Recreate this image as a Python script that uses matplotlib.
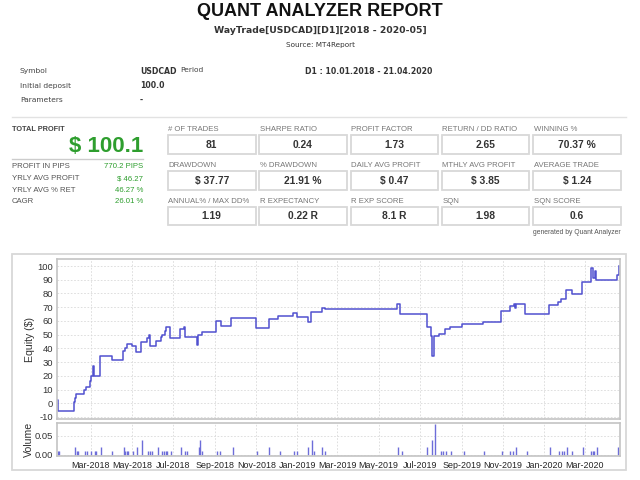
import matplotlib
matplotlib.use("Agg")
import matplotlib.pyplot as plt
import matplotlib.dates as mdates
from matplotlib.patches import Rectangle
from matplotlib.lines import Line2D
import pandas as pd

plt.rcParams["axes.unicode_minus"] = False

# ---------------- data ----------------
title = "QUANT ANALYZER REPORT"
subtitle = "WayTrade[USDCAD][D1][2018 - 2020-05]"
source = "Source: MT4Report"

info_labels = ["Symbol", "Initial deposit", "Parameters"]
info_values = ["USDCAD", "100.0", "-"]
period_label = "Period"
period_value = "D1 : 10.01.2018 - 21.04.2020"

total_profit = "$ 100.1"
left_labels = ["PROFIT IN PIPS", "YRLY AVG PROFIT", "YRLY AVG % RET", "CAGR"]
left_values = ["770.2 PIPS", "$ 46.27", "46.27 %", "26.01 %"]

stat_labels = ["# OF TRADES", "SHARPE RATIO", "PROFIT FACTOR", "RETURN / DD RATIO", "WINNING %",
               "DRAWDOWN", "% DRAWDOWN", "DAILY AVG PROFIT", "MTHLY AVG PROFIT", "AVERAGE TRADE",
               "ANNUAL% / MAX DD%", "R EXPECTANCY", "R EXP SCORE", "SQN", "SQN SCORE"]
stat_values = ["81", "0.24", "1.73", "2.65", "70.37 %",
               "$ 37.77", "21.91 %", "$ 0.47", "$ 3.85", "$ 1.24",
               "1.19", "0.22 R", "8.1 R", "1.98", "0.6"]

equity_dates = ["2018-01-10", "2018-01-11", "2018-02-04", "2018-02-06", "2018-02-07",
                "2018-02-19", "2018-02-22", "2018-02-28", "2018-03-01", "2018-03-05",
                "2018-03-06", "2018-03-15", "2018-04-02", "2018-04-18", "2018-04-20",
                "2018-04-24", "2018-05-01", "2018-05-07", "2018-05-14", "2018-05-24",
                "2018-05-26", "2018-05-28", "2018-06-06", "2018-06-13", "2018-06-15",
                "2018-06-19", "2018-06-21", "2018-06-27", "2018-07-11", "2018-07-17",
                "2018-07-19", "2018-08-06", "2018-08-07", "2018-08-12", "2018-09-03",
                "2018-09-10", "2018-09-25", "2018-11-01", "2018-11-20", "2018-12-03",
                "2018-12-26", "2019-01-01", "2019-01-17", "2019-01-21", "2019-02-06",
                "2019-02-11", "2019-05-29", "2019-06-01", "2019-07-11", "2019-07-18",
                "2019-07-19", "2019-07-22", "2019-07-30", "2019-08-07", "2019-08-15",
                "2019-09-02", "2019-10-02", "2019-10-29", "2019-11-11", "2019-11-18",
                "2019-11-19", "2019-11-21", "2019-12-03", "2020-01-08", "2020-01-21",
                "2020-01-26", "2020-02-03", "2020-02-11", "2020-02-26", "2020-03-10",
                "2020-03-13", "2020-03-17", "2020-03-18", "2020-04-18", "2020-04-21"]
equity_values = [2.4, -5.7, 1.0, 4.0, 7.0,
                 9.5, 12.0, 16.0, 19.5, 27.0,
                 19.5, 34.5, 31.5, 38.0, 40.0,
                 43.0, 42.0, 37.0, 44.5, 47.5,
                 50.0, 42.0, 45.5, 48.5, 50.0,
                 52.5, 55.3, 47.3, 54.0, 55.8,
                 48.3, 42.5, 49.7, 52.1, 60.0,
                 56.3, 62.3, 54.6, 61.3, 63.6,
                 65.5, 63.2, 59.4, 66.5, 69.7,
                 68.6, 72.3, 65.2, 55.6, 49.0,
                 34.7, 49.2, 50.6, 54.0, 55.8,
                 57.5, 59.5, 67.2, 70.9, 72.6,
                 69.2, 72.6, 65.0, 71.6, 74.0,
                 75.7, 82.7, 79.6, 88.6, 98.8,
                 91.0, 96.4, 89.6, 93.4, 100.1]

volume_dates = ["2018-01-11", "2018-01-13", "2018-02-05", "2018-02-08", "2018-02-10",
                "2018-02-21", "2018-02-23", "2018-03-02", "2018-03-07", "2018-03-09",
                "2018-03-16", "2018-04-02", "2018-04-19", "2018-04-21", "2018-04-23",
                "2018-04-25", "2018-05-03", "2018-05-08", "2018-05-16", "2018-05-25",
                "2018-05-28", "2018-05-30", "2018-06-09", "2018-06-15", "2018-06-17",
                "2018-06-20", "2018-06-22", "2018-06-28", "2018-07-12", "2018-07-19",
                "2018-07-21", "2018-08-08", "2018-08-09", "2018-08-13", "2018-09-04",
                "2018-09-09", "2018-09-27", "2018-11-02", "2018-11-20", "2018-12-06",
                "2018-12-27", "2019-01-01", "2019-01-17", "2019-01-23", "2019-01-25",
                "2019-02-07", "2019-02-11", "2019-05-30", "2019-06-04", "2019-07-12",
                "2019-07-19", "2019-07-24", "2019-08-01", "2019-08-05", "2019-08-09",
                "2019-08-16", "2019-09-04", "2019-10-04", "2019-10-31", "2019-11-12",
                "2019-11-16", "2019-11-20", "2019-12-06", "2020-01-10", "2020-01-23",
                "2020-01-27", "2020-01-30", "2020-02-04", "2020-02-12", "2020-02-28",
                "2020-03-10", "2020-03-13", "2020-03-15", "2020-03-19", "2020-04-19"]
volume_lots = [0.01, 0.01, 0.02, 0.01, 0.01,
               0.01, 0.01, 0.01, 0.01, 0.01,
               0.02, 0.01, 0.02, 0.01, 0.01,
               0.01, 0.01, 0.02, 0.04, 0.01,
               0.01, 0.01, 0.02, 0.01, 0.01,
               0.01, 0.01, 0.01, 0.02, 0.01,
               0.01, 0.02, 0.04, 0.01, 0.01,
               0.01, 0.02, 0.01, 0.02, 0.01,
               0.01, 0.01, 0.02, 0.04, 0.01,
               0.02, 0.01, 0.02, 0.01, 0.02,
               0.04, 0.08, 0.01, 0.01, 0.01,
               0.01, 0.01, 0.01, 0.01, 0.01,
               0.01, 0.02, 0.01, 0.02, 0.01,
               0.01, 0.01, 0.02, 0.01, 0.02,
               0.01, 0.01, 0.01, 0.02, 0.02]

# ---------------- figure ----------------
W, H = 640, 480
fig = plt.figure(figsize=(6.4, 4.8), dpi=100)
fig.patch.set_facecolor("white")

def fx(x):
    return x / W

def fy(y):
    return 1 - y / H

SANS = "Liberation Sans"
TAHO = "DejaVu Sans"
GREEN = "#2e9e2e"

def txt(x, y, s, size, ha="left", va="center", weight="normal", color="#222222", family=SANS):
    fig.text(fx(x), fy(y), s, fontsize=size, ha=ha, va=va, fontweight=weight,
             color=color, family=family)

def rect(x0, y0, x1, y1, ec="#d4d4d4", lw=1.2, fc="none"):
    fig.patches.append(Rectangle((fx(x0), fy(y1)), (x1 - x0) / W, (y1 - y0) / H,
                                 transform=fig.transFigure, fill=(fc != "none"),
                                 facecolor=fc, edgecolor=ec, linewidth=lw))

def hline(x0, x1, y, color="#dddddd", lw=1.0):
    fig.lines.append(Line2D([fx(x0), fx(x1)], [fy(y), fy(y)], transform=fig.transFigure,
                            color=color, linewidth=lw))

# header
txt(320, 11.5, title, 13, ha="center", weight="bold", color="#111111")
txt(320, 30.5, subtitle, 6.7, ha="center", weight="bold", color="#333333", family=TAHO)
txt(320, 45, source, 5.2, ha="center", color="#333333", family=TAHO)

info_y = [71, 86, 100]
for lab, val, y in zip(info_labels, info_values, info_y):
    txt(20, y, lab, 5.4, color="#444444", family=TAHO)
    txt(140, y, val, 5.6, weight="bold", color="#333333", family=TAHO)
txt(180, 70, period_label, 5.4, color="#444444", family=TAHO)
txt(305, 71, period_value, 5.6, weight="bold", color="#333333", family=TAHO)

# stats section
hline(12, 626, 117, color="#e2e2e2", lw=1.0)
txt(12, 130, "TOTAL PROFIT", 5.3, weight="bold", color="#444444")
txt(143, 147, total_profit, 16, ha="right", weight="bold", color=GREEN)
hline(12, 143, 159, color="#cccccc", lw=1.0)
for i, (lab, val) in enumerate(zip(left_labels, left_values)):
    y = 167 + i * 11.6
    txt(12, y, lab, 5.6, color="#555555")
    txt(143, y, val, 5.6, ha="right", color=GREEN)

col_x = [168, 259.3, 350.6, 441.9, 533.2]
box_w = 87.5
row_label_y = [130, 165.7, 201.7]
row_box = [(135, 154), (171, 189.5), (206.5, 225)]
for k, (lab, val) in enumerate(zip(stat_labels, stat_values)):
    r, c = divmod(k, 5)
    x0 = col_x[c]
    txt(x0 + 0.5, row_label_y[r], lab, 5.6, color="#777777")
    y0, y1 = row_box[r]
    rect(x0, y0, x0 + box_w, y1, ec="#d8d8d8", lw=1.3)
    txt(x0 + box_w / 2, (y0 + y1) / 2 + 0.3, val, 7.4, ha="center", weight="bold", color="#333333")
txt(621, 232.5, "generated by Quant Analyzer", 4.9, ha="right", color="#555555")

# chart frame
rect(12, 254, 626, 469.5, ec="#d8d8d8", lw=1.3)

ax_l, ax_r = 57.3, 620
ax = fig.add_axes([fx(ax_l), fy(419.3), (ax_r - ax_l) / W, (419.3 - 259.3) / H])
vax = fig.add_axes([fx(ax_l), fy(455.7), (ax_r - ax_l) / W, (455.7 - 423.3) / H], sharex=ax)

eq_d = pd.to_datetime(equity_dates)
vol_d = pd.to_datetime(volume_dates)

ax.plot(eq_d, equity_values, drawstyle="steps-post", color="#5151cf", linewidth=1.1)
vax.vlines(vol_d, 0, volume_lots, color="#6d6dd9", linewidth=1.0)

xmin = pd.Timestamp("2018-01-10 12:00")
xmax = pd.Timestamp("2020-04-22 08:00")
ax.set_xlim(xmin, xmax)
ax.set_ylim(-11.7, 104.9)
vax.set_ylim(-0.0025, 0.0826)

ax.set_yticks(list(range(-10, 101, 10)))
vax.set_yticks([0.0, 0.05])
vax.yaxis.set_major_formatter(matplotlib.ticker.FormatStrFormatter("%.2f"))
vax.xaxis.set_major_locator(mdates.MonthLocator(bymonth=[1, 3, 5, 7, 9, 11]))
vax.xaxis.set_major_formatter(mdates.DateFormatter("%b-%Y"))

for a in (ax, vax):
    for s in a.spines.values():
        s.set_color("#c4c4c4")
        s.set_linewidth(1.2)
    a.grid(True, color="#d9d9d9", linestyle=(0, (2, 2)), linewidth=0.6)
    a.set_axisbelow(True)
    a.tick_params(length=0, labelsize=6.8, colors="#333333", pad=3)
    for lbl in a.get_yticklabels():
        lbl.set_family(SANS)
plt.setp(ax.get_xticklabels(), visible=False)
vax.tick_params(axis="x", pad=3.5, labelsize=6.4)
for lbl in vax.get_xticklabels():
    lbl.set_family(SANS)
    lbl.set_color("#222222")

fig.text(fx(30), fy(339), "Equity ($)", rotation=90, ha="center", va="center",
         fontsize=7.6, family=SANS, color="#333333")
fig.text(fx(29), fy(439), "Volume", rotation=90, ha="center", va="center",
         fontsize=7.6, family=SANS, color="#333333")

fig.savefig("out.png", dpi=100, facecolor="white")
